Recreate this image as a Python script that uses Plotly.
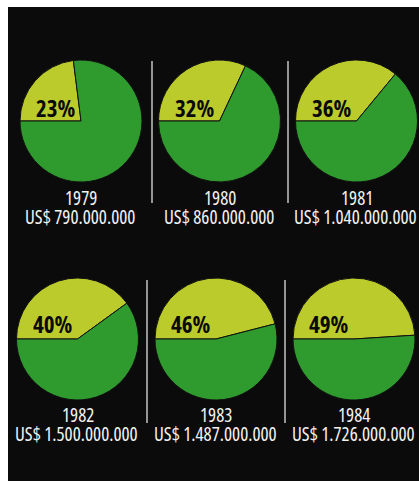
import plotly.graph_objects as go

# Share of the total (yellow slice) and total amount per year
years = ["1979", "1980", "1981", "1982", "1983", "1984"]
share_pct = [23, 32, 36, 40, 46, 49]
totals = ["US$ 790.000.000", "US$ 860.000.000", "US$ 1.040.000.000",
          "US$ 1.500.000.000", "US$ 1.487.000.000", "US$ 1.726.000.000"]

W, H = 419, 481
YELLOW = "#bccb2c"
GREEN = "#2f9a2e"
BG = "#0b0b0b"

LABEL_FONT = "Open Sans, Roboto, sans-serif"


def condensed(txt):
    return f'<span style="font-stretch:75%">{txt}</span>'


def px_x(x):
    return x / W


def px_y(y):
    return 1 - y / H


# pie centres (pixels) and radius
centres = [(81, 121), (219.5, 121), (356.5, 121),
           (77.5, 339), (216, 339), (354, 339)]
radius = 61

fig = go.Figure()

for i, (year, pct) in enumerate(zip(years, share_pct)):
    cx, cy = centres[i]
    fig.add_trace(go.Pie(
        values=[pct, 100 - pct],
        labels=["share", "rest"],
        sort=False,
        direction="clockwise",
        rotation=270,
        marker=dict(colors=[YELLOW, GREEN], line=dict(color="#111111", width=1)),
        textinfo="none",
        hoverinfo="label+percent",
        showlegend=False,
        domain=dict(x=[px_x(cx - radius), px_x(cx + radius)],
                    y=[px_y(cy + radius), px_y(cy - radius)]),
    ))

annotations = []
for i, (year, pct, total) in enumerate(zip(years, share_pct, totals)):
    cx, cy = centres[i]
    top = i < 3
    # percentage label inside the yellow slice
    annotations.append(dict(
        x=px_x(cx - 25), y=px_y(cy - (13 if top else 15)),
        xref="paper", yref="paper", showarrow=False,
        text=condensed(f"<b>{pct}%</b>"),
        font=dict(family=LABEL_FONT, size=23, color="#0a0a0a"),
        xanchor="center", yanchor="middle",
    ))
    year_y = 198 if top else 415
    annotations.append(dict(
        x=px_x(cx), y=px_y(year_y),
        xref="paper", yref="paper", showarrow=False,
        text=condensed(year),
        font=dict(family=LABEL_FONT, size=19, color="#f2f2f2"),
        xanchor="center", yanchor="middle",
    ))
    annotations.append(dict(
        x=px_x(cx - 1), y=px_y(year_y + 19),
        xref="paper", yref="paper", showarrow=False,
        text=condensed(total),
        font=dict(family=LABEL_FONT, size=19, color="#f2f2f2"),
        xanchor="center", yanchor="middle",
    ))

shapes = [dict(type="rect", xref="paper", yref="paper",
               x0=px_x(8), x1=1, y0=0, y1=px_y(7),
               fillcolor=BG, line=dict(width=0), layer="below")]

# thin separators between the columns
for x, y0, y1 in [(152, 61, 203), (288, 61, 203), (147, 280, 423), (285, 280, 423)]:
    shapes.append(dict(type="line", xref="paper", yref="paper",
                       x0=px_x(x), x1=px_x(x), y0=px_y(y1), y1=px_y(y0),
                       line=dict(color="#c4c4c4", width=1.5), layer="below"))

fig.update_layout(
    width=W, height=H,
    margin=dict(l=0, r=0, t=0, b=0),
    paper_bgcolor="white",
    plot_bgcolor="white",
    shapes=shapes,
    annotations=annotations,
)

fig.write_html("out.html")
